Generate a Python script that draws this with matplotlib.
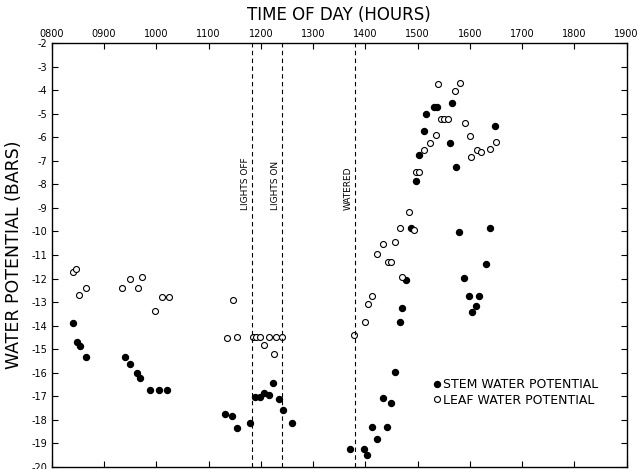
import matplotlib
matplotlib.use('Agg')
import matplotlib.pyplot as plt

# time of day in decimal hours, water potential in bars
stem_time = [8.40, 8.48, 8.55, 8.66, 9.41, 9.49, 9.63, 9.68, 9.88, 10.05, 10.21,
             11.31, 11.44, 11.55, 11.79, 11.89, 11.99, 12.06, 12.16, 12.23, 12.34,
             12.42, 12.60, 13.71, 13.98, 14.04, 14.13, 14.22, 14.34, 14.42, 14.49,
             14.56, 14.66, 14.71, 14.78, 14.87, 14.96, 15.03, 15.12, 15.16, 15.31,
             15.38, 15.62, 15.65, 15.74, 15.79, 15.89, 15.98, 16.05, 16.11, 16.18,
             16.31, 16.39, 16.49]
stem_wp = [-13.90, -14.70, -14.88, -15.32, -15.31, -15.63, -16.03, -16.24, -16.73, -16.73, -16.73,
           -17.75, -17.84, -18.36, -18.15, -17.05, -17.05, -16.84, -16.93, -16.45, -17.13,
           -17.57, -18.15, -19.23, -19.23, -19.51, -18.31, -18.82, -17.07, -18.31, -17.29,
           -15.98, -13.86, -13.27, -12.06, -9.84, -7.86, -6.76, -5.74, -5.03, -4.72,
           -4.72, -6.23, -4.55, -7.25, -10.04, -11.98, -12.76, -13.44, -13.15, -12.76,
           -11.37, -9.84, -5.52]

leaf_time = [8.41, 8.47, 8.52, 8.66, 9.35, 9.50, 9.65, 9.72, 9.97, 10.11, 10.24,
             11.35, 11.46, 11.55, 11.86, 11.91, 11.99, 12.07, 12.16, 12.25, 12.30, 12.41,
             13.78, 14.00, 14.05, 14.13, 14.23, 14.34, 14.43, 14.49, 14.57, 14.66,
             14.71, 14.84, 14.93, 14.97, 15.03, 15.12, 15.24, 15.36, 15.39, 15.45,
             15.51, 15.59, 15.71, 15.81, 15.90, 16.00, 16.03, 16.13, 16.22, 16.39, 16.50]
leaf_wp = [-11.71, -11.61, -12.70, -12.42, -12.42, -12.02, -12.39, -11.92, -13.38, -12.80, -12.80,
           -14.53, -12.93, -14.50, -14.50, -14.50, -14.50, -14.84, -14.50, -15.21, -14.50, -14.50,
           -14.39, -13.86, -13.07, -12.76, -10.96, -10.55, -11.29, -11.29, -10.46, -9.84,
           -11.95, -9.16, -9.94, -7.46, -7.46, -6.53, -6.23, -5.92, -3.73, -5.23,
           -5.23, -5.23, -4.02, -3.71, -5.41, -5.94, -6.84, -6.54, -6.63, -6.51, -6.22]

events = ['LIGHTS OFF', 'LIGHTS ON', 'WATERED']
event_time = [11.84, 12.41, 13.80]

hour_ticks = list(range(8, 20))
hour_labels = ['0800', '0900', '1000', '1100', '1200', '1300', '1400',
               '1500', '1600', '1700', '1800', '1900']
wp_ticks = list(range(-2, -21, -1))
wp_labels = ['-%d' % -t for t in wp_ticks]

fig = plt.figure(figsize=(6.44, 4.69), dpi=100)
ax = fig.add_axes([0.0803, 0.0043, 0.8928, 0.9041])

ax.plot(stem_time, stem_wp, 'o', ms=4.3, mfc='black', mec='black',
        label='STEM WATER POTENTIAL')
ax.plot(leaf_time, leaf_wp, 'o', ms=4.3, mfc='white', mec='black', mew=0.8,
        label='LEAF WATER POTENTIAL')

for name, t in zip(events, event_time):
    ax.axvline(t, color='black', lw=0.8, ls=(0, (4, 3)))
    ax.text(t - 0.05, -9.1, name, rotation=90, ha='right', va='bottom', fontsize=6.5)

ax.set_xlim(8, 19)
ax.set_ylim(-20, -2)
ax.set_xticks(hour_ticks)
ax.set_xticklabels(hour_labels, fontsize=7)
ax.set_yticks(wp_ticks)
ax.set_yticklabels(wp_labels, fontsize=7)
ax.xaxis.set_label_position('top')
ax.tick_params(axis='x', top=True, labeltop=True, bottom=True, labelbottom=False,
               direction='in', length=4, pad=3)
ax.tick_params(axis='y', left=True, right=True, direction='in', length=4, pad=3)
ax.set_xlabel('TIME OF DAY (HOURS)', fontsize=12, labelpad=6)
ax.set_ylabel('WATER POTENTIAL (BARS)', fontsize=12.5, labelpad=6)
for s in ax.spines.values():
    s.set_linewidth(1.0)

ax.legend(loc='upper left', bbox_to_anchor=(0.6635, 0.209), frameon=False,
          fontsize=9, handlelength=0.55, handletextpad=0.25, borderpad=0,
          labelspacing=0.2, borderaxespad=0)

fig.savefig('out.png', dpi=100)
